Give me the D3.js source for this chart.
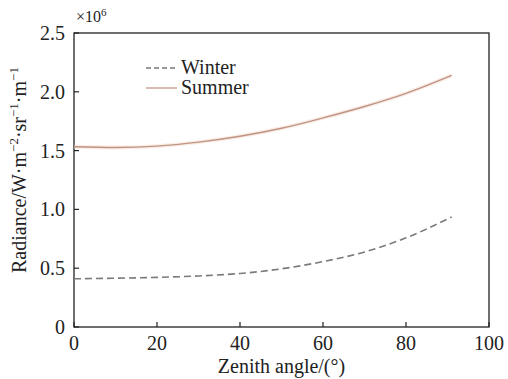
<!DOCTYPE html>
<html>
<head>
<meta charset="utf-8">
<script src="https://cdn.jsdelivr.net/npm/d3@7"></script>
</head>
<body style="margin:0">
<svg id="chart" width="508" height="379"></svg>
<script>
// Zenith angle samples (degrees)
const zenith = [0, 10, 20, 30, 40, 50, 60, 70, 80, 91];
// Radiance, in units of 10^6 W·m^-2·sr^-1·m^-1
const winter = [0.410, 0.415, 0.422, 0.434, 0.455, 0.495, 0.556, 0.638, 0.758, 0.935];
const summer = [1.533, 1.526, 1.538, 1.572, 1.622, 1.690, 1.778, 1.875, 1.987, 2.140];
const xTicks = [0, 20, 40, 60, 80, 100];
const yTicks = [0, 0.5, 1.0, 1.5, 2.0, 2.5];
const yTickLabels = ["0", "0.5", "1.0", "1.5", "2.0", "2.5"];

const svg = d3.select("#chart");
const m = { left: 74, right: 489, top: 33, bottom: 327 };

const x = d3.scaleLinear().domain([0, 100]).range([m.left, m.right]);
const y = d3.scaleLinear().domain([0, 2.5]).range([m.bottom, m.top]);

const axisColor = "#222";
const serif = sel => sel.style("font-family", "'Liberation Serif'");

// frame
svg.append("rect")
  .attr("x", m.left).attr("y", m.top)
  .attr("width", m.right - m.left).attr("height", m.bottom - m.top)
  .attr("fill", "none").attr("stroke", axisColor).attr("stroke-width", 1.3);

// tick marks drawn inward, labels outside
const gx = svg.append("g").attr("transform", `translate(0,${m.bottom})`);
gx.selectAll("line").data(xTicks).join("line")
  .attr("x1", d => x(d)).attr("x2", d => x(d)).attr("y1", 0).attr("y2", -5)
  .attr("stroke", axisColor).attr("stroke-width", 1.2);
gx.selectAll("text").data(xTicks).join("text")
  .attr("x", d => x(d)).attr("y", 23).attr("text-anchor", "middle")
  .attr("font-size", 20).attr("fill", "#222").call(serif)
  .text(d => d3.format("d")(d));

const gy = svg.append("g").attr("transform", `translate(${m.left},0)`);
gy.selectAll("line").data(yTicks).join("line")
  .attr("y1", d => y(d)).attr("y2", d => y(d)).attr("x1", 0).attr("x2", 5)
  .attr("stroke", axisColor).attr("stroke-width", 1.2);
gy.selectAll("text").data(yTicks).join("text")
  .attr("x", -9).attr("y", d => y(d) + 7).attr("text-anchor", "end")
  .attr("font-size", 20).attr("fill", "#222").call(serif)
  .text((d, i) => yTickLabels[i]);

// ×10^6 multiplier
const mult = svg.append("text").attr("x", 76).attr("y", 22)
  .attr("font-size", 16).attr("fill", "#222").call(serif);
mult.append("tspan").text("×10");
mult.append("tspan").attr("font-size", 11).attr("dy", -6).text("6");

// axis titles
svg.append("text").attr("x", (m.left + m.right) / 2).attr("y", 373)
  .attr("text-anchor", "middle").attr("font-size", 20).attr("fill", "#222").call(serif)
  .text("Zenith angle/(°)");

const yt = svg.append("text")
  .attr("transform", "translate(26,273) rotate(-90)")
  .attr("text-anchor", "start").attr("font-size", 20).attr("fill", "#222").call(serif);
const parts = [["Radiance/W·m", false], ["−2", true], ["·sr", false], ["−1", true], ["·m", false], ["−1", true]];
let up = false;
parts.forEach(([t, sup]) => {
  const ts = yt.append("tspan").text(t);
  if (sup) { ts.attr("font-size", 13).attr("dy", up ? 0 : -8); up = true; }
  else { ts.attr("dy", up ? 8 : 0); up = false; }
});

// curves
const line = (vals) => d3.line()
  .x((d, i) => x(zenith[i]))
  .y(d => y(d))
  .curve(d3.curveMonotoneX)(vals);

svg.append("path").attr("d", line(summer))
  .attr("fill", "none").attr("stroke", "#f3d2c4").attr("stroke-width", 4).attr("opacity", 0.4);
svg.append("path").attr("d", line(summer))
  .attr("fill", "none").attr("stroke", "#bf9483").attr("stroke-width", 1.4);

svg.append("path").attr("d", line(winter))
  .attr("fill", "none").attr("stroke", "#7a7a7a").attr("stroke-width", 1.6)
  .attr("stroke-dasharray", "7,4");

// legend
const legend = [
  { name: "Winter", color: "#7a7a7a", dash: "5,3", y: 68 },
  { name: "Summer", color: "#c9a090", dash: null, y: 88 }
];
legend.forEach(l => {
  svg.append("line").attr("x1", 146).attr("x2", 177).attr("y1", l.y).attr("y2", l.y)
    .attr("stroke", l.color).attr("stroke-width", 1.4)
    .attr("stroke-dasharray", l.dash);
  svg.append("text").attr("x", 181).attr("y", l.y + 6)
    .attr("font-size", 20).attr("fill", "#222").call(serif)
    .text(l.name);
});
</script>
</body>
</html>
